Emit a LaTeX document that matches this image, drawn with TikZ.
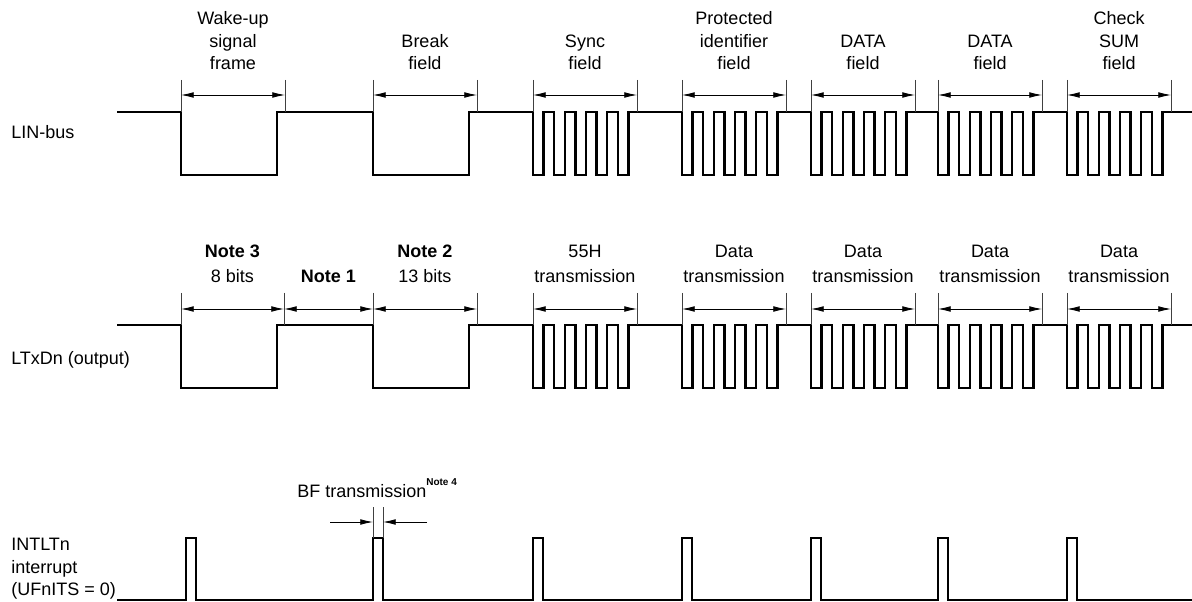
\documentclass[tikz,border=0pt]{standalone}
\usepackage{fontspec}
\setmainfont{Liberation Sans}
\usetikzlibrary{arrows.meta, calc}

\begin{document}
\begin{tikzpicture}[
  x=0.75pt, y=-0.75pt,
  font=\fontsize{13.5}{16.9}\selectfont,
  every node/.style={align=center, inner sep=0pt},
  wave/.style={line width=1.7pt},
  ext/.style={line width=0.5pt, black!75},
  dim/.style={{Latex[length=9.5pt,width=4.3pt]}-{Latex[length=9.5pt,width=4.3pt]}, line width=0.6pt},
  tip/.style={-{Latex[length=9.5pt,width=4.3pt]}, line width=0.6pt},
  lab/.style={anchor=south},
  note/.style={anchor=south, font=\fontsize{13.5}{18.8}\selectfont},
  sig/.style={anchor=base west, align=left}
]
\useasboundingbox (0,0) rectangle (1192,602);

% signal names
\node[sig] (lin) at (11,139) {LIN-bus};
\node[sig] (txd) at (11,364) {LTxDn (output)};
\node[anchor=north west, align=left] (intr) at (11,538) {INTLTn\\interrupt\\(UFnITS = 0)};

% LIN-bus and LTxDn waveforms
\foreach \y in {112,325}{
  \draw[wave] (117,\y) -- (181,\y) |- (277,\y+63) -- (277,\y) -- (373,\y) |- (469,\y+63) -- (469,\y)
    \foreach \s in {533,682,811,938,1067}{ -- (\s,\y)
      \foreach \k in {1,...,5}{ -- ++(0,63) -- ++(10.6,0) -- ++(0,-63) -- ++(10.6,0)}}
    -- (1192,\y);
}

% LIN-bus fields
\foreach \a/\b/\txt [count=\i] in {181/285/{Wake-up\\signal\\frame}, 373/477/{Break\\field},
    533/637/{Sync\\field}, 682/786/{Protected\\identifier\\field}, 811/915/{DATA\\field},
    938/1042/{DATA\\field}, 1067/1171/{Check\\SUM\\field}}{
  \draw[ext] (\a,80) -- (\a,112) (\b,80) -- (\b,112);
  \coordinate (ta\i) at (\a,95);
  \coordinate (tb\i) at (\b,95);
  \draw[dim] (ta\i) -- (tb\i);
  \node[lab] (tf\i) at ($(ta\i)!0.5!(tb\i)+(0,-25)$) {\txt};
}

% LTxDn fields
\foreach \a/\b/\txt [count=\i] in {181/284/{\textbf{Note 3}\\8 bits}, 284/373/{\textbf{Note 1}},
    373/477/{\textbf{Note 2}\\13 bits}, 533/637/{55H\\transmission}, 682/786/{Data\\transmission},
    811/915/{Data\\transmission}, 938/1042/{Data\\transmission}, 1067/1171/{Data\\transmission}}{
  \draw[ext] (\a,293) -- (\a,325) (\b,293) -- (\b,325);
  \coordinate (ba\i) at (\a,309);
  \coordinate (bb\i) at (\b,309);
  \draw[dim] (ba\i) -- (bb\i);
  \node[note] (bf\i) at ($(ba\i)!0.5!(bb\i)+(0,-26)$) {\txt};
}

% INTLTn interrupt
\draw[wave] (117,600)
  \foreach \s in {186,373,533,682,811,938,1067}{ -- (\s,600) -- ++(0,-62) -- ++(10,0) -- ++(0,62)}
  -- (1192,600);

% BF transmission width
\coordinate (bfl) at (373,522);
\coordinate (bfr) at (383,522);
\coordinate (bflt) at (330,522);
\coordinate (bfrt) at (427,522);
\draw[ext] (373,507) -- (373,538) (383,507) -- (383,538);
\draw[tip] (bflt) -- (bfl);
\draw[tip] (bfrt) -- (bfr);
\node[anchor=base west] (bftx) at (297,497)
  {BF transmission\raisebox{8.5pt}{\fontsize{7.5}{8}\selectfont\bfseries Note 4}};
\end{tikzpicture}
\end{document}
